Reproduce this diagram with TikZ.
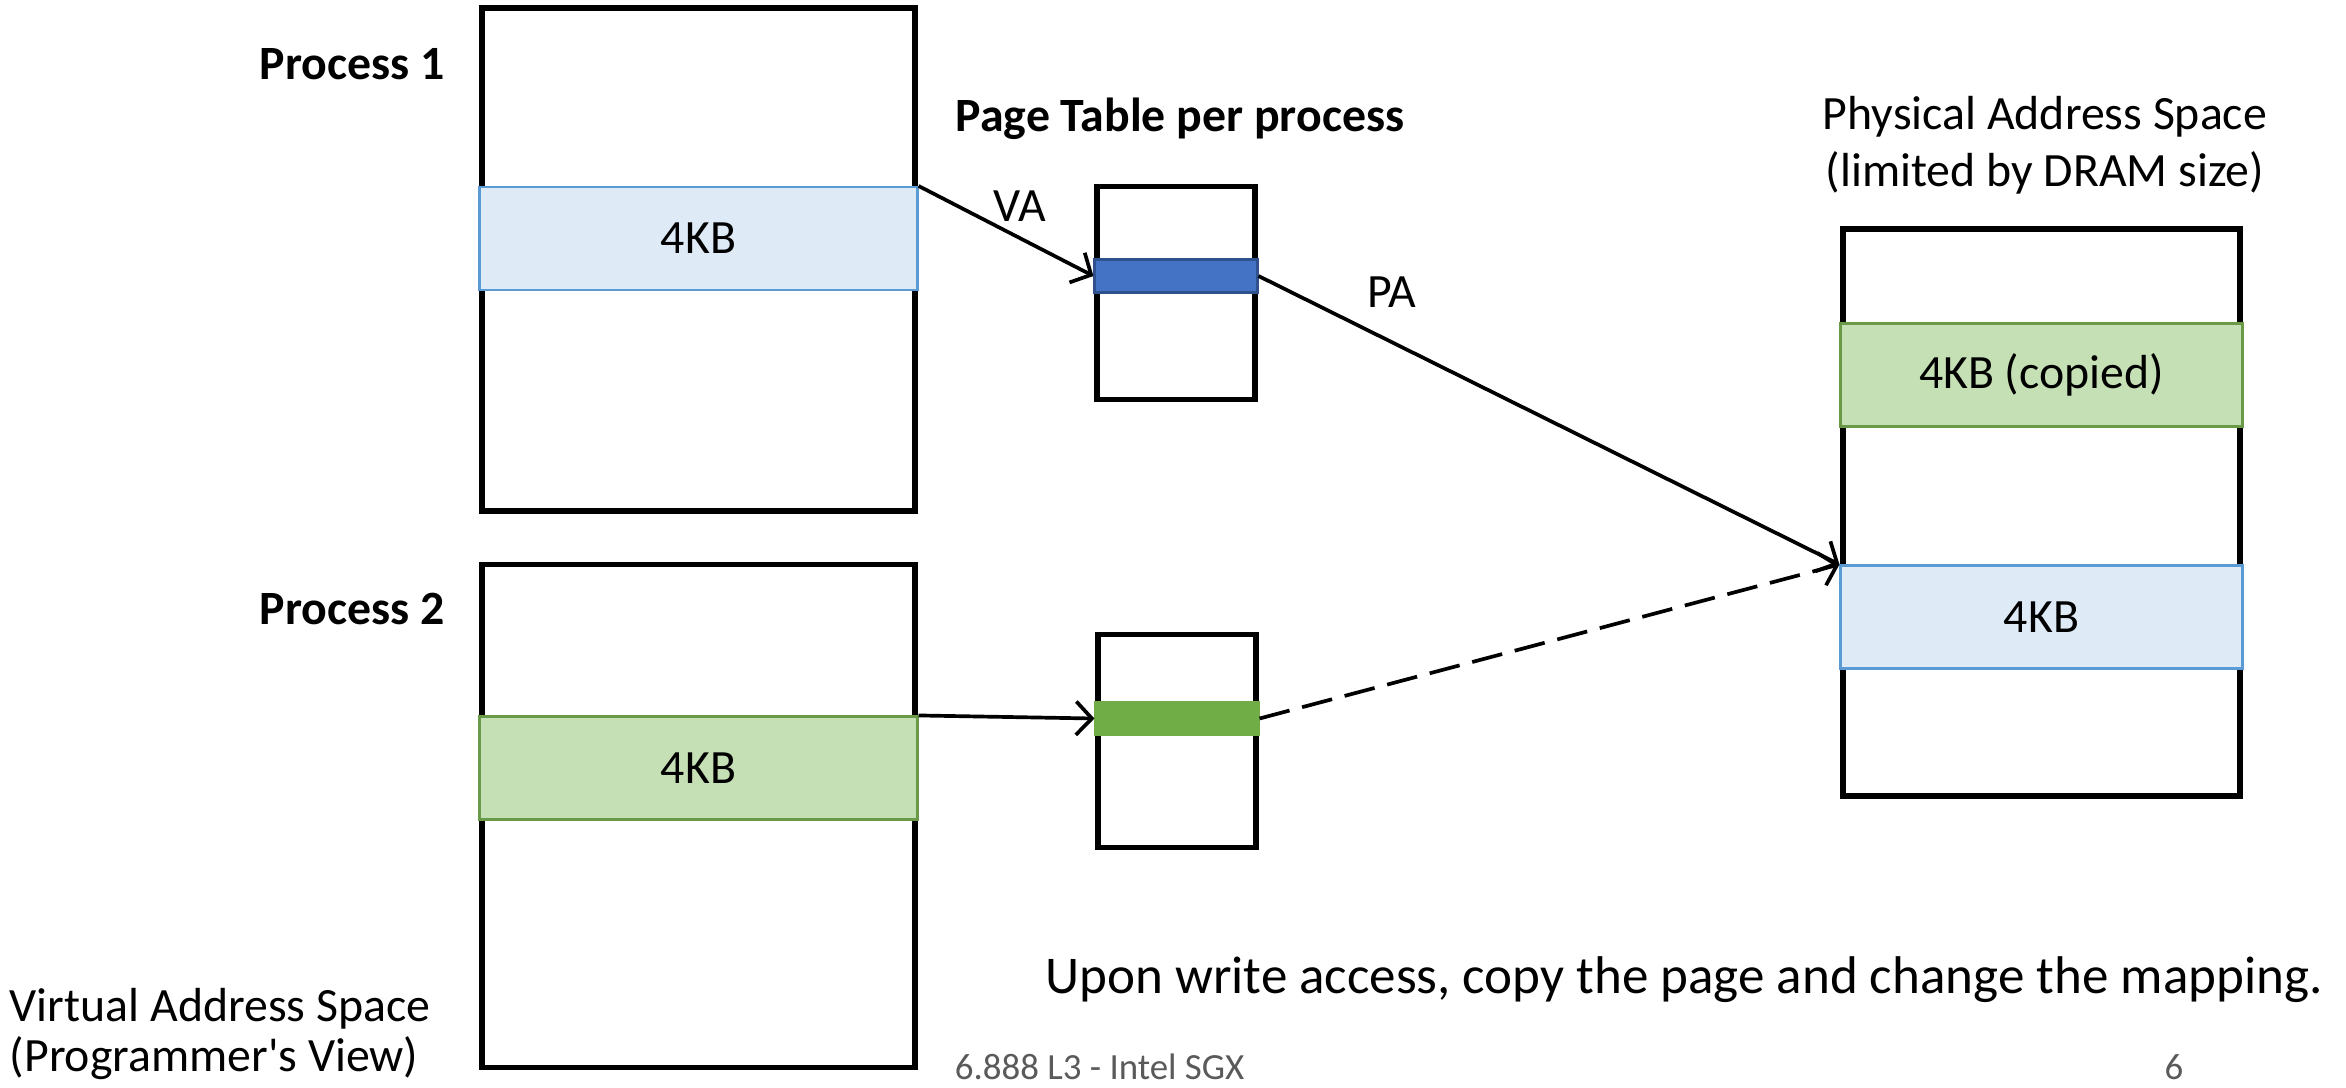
\documentclass[tikz,border=0pt]{standalone}
\usepackage{fontspec}
\setmainfont{Carlito}
\usepackage{tikz}
\usetikzlibrary{positioning, arrows.meta}
\usepackage{xcolor}
\definecolor{pgbluefill}{HTML}{DEEBF7}
\definecolor{pgblueline}{HTML}{5B9BD5}
\definecolor{pggreenfill}{HTML}{C5E0B4}
\definecolor{pggreenline}{HTML}{6A9A48}
\definecolor{ptblue}{HTML}{4472C4}
\definecolor{ptblueline}{HTML}{2F528F}
\definecolor{ptgreen}{HTML}{70AD47}
\definecolor{footgray}{HTML}{5A5A5A}

\begin{document}
\begin{tikzpicture}[>={Straight Barb[length=4.5pt,width=9.5pt]},line width=1.05pt,
  vspace/.style={draw,line width=1.5pt,minimum width=4.33cm,minimum height=5.03cm,inner sep=0pt},
  ptable/.style={draw,line width=1.5pt,minimum width=1.58cm,minimum height=2.13cm,inner sep=0pt},
  bluepage/.style={draw=pgblueline,fill=pgbluefill,line width=0.6pt,minimum height=1.03cm,inner sep=0pt,font=\fontsize{13.6}{16}\selectfont},
  greenpage/.style={draw=pggreenline,fill=pggreenfill,line width=0.6pt,minimum height=1.03cm,inner sep=0pt,font=\fontsize{13.6}{16}\selectfont},
  entry/.style={line width=0.6pt,minimum width=1.63cm,minimum height=0.33cm,inner sep=0pt},
  lbl/.style={inner sep=0pt,font=\fontsize{13.6}{16}\selectfont}]
  \useasboundingbox (0,0) rectangle (23.46,-10.88);

  % virtual address spaces
  \node[vspace] (p1) at (6.985,-2.595) {};
  \node[bluepage,minimum width=4.38cm] (p1pg) at (6.985,-2.385) {4KB};
  \node[vspace] (p2) at (6.985,-8.16) {};
  \node[greenpage,minimum width=4.38cm] (p2pg) at (6.985,-7.68) {4KB};
  \node[lbl,font=\fontsize{13.6}{16}\selectfont\bfseries] (p1lbl) [left=0.33cm of p1.north west,yshift=-0.59cm] {Process 1};
  \node[lbl,font=\fontsize{13.6}{16}\selectfont\bfseries] (p2lbl) [left=0.33cm of p2.north west,yshift=-0.47cm] {Process 2};
  \node[lbl,font=\fontsize{13.6}{14}\selectfont,align=left,anchor=west] (vas) at (0.08,-10.34) {Virtual Address Space\\(Programmer\textquotesingle s View)};

  % page tables
  \node[ptable] (pt1) at (11.76,-2.93) {};
  \node[entry,fill=ptblue,draw=ptblueline] (pt1e) at (11.76,-2.76) {};
  \node[ptable] (pt2) at (11.77,-7.41) {};
  \node[entry,fill=ptgreen,draw=ptgreen] (pt2e) at (11.77,-7.185) {};
  \node[lbl,font=\fontsize{13.6}{16}\selectfont\bfseries] (ptlbl) at (11.80,-1.19) {Page Table per process};

  % physical memory
  \node[draw,line width=1.5pt,minimum width=3.97cm,minimum height=5.67cm,inner sep=0pt] (phys) at (20.415,-5.125) {};
  \node[greenpage,minimum width=4.02cm] (physcp) at (20.415,-3.75) {4KB (copied)};
  \node[bluepage,minimum width=4.02cm] (physpg) at (20.415,-6.17) {4KB};
  \node[lbl,font=\fontsize{13.6}{16.2}\selectfont,align=center] (physlbl) at (20.45,-1.45) {Physical Address Space\\(limited by DRAM size)};

  % mappings
  \path[->]
    (p1pg.north east) edge node[lbl,pos=0.42,above right=0pt] {VA} (pt1e.west)
    (pt1e.east) edge node[lbl,pos=0.23,above=0.33cm] {PA} (physpg.north west)
    (p2pg.north east) edge (pt2e.west)
    (pt2e.east) edge[dash pattern=on 0.31cm off 0.13cm] (physpg.north west);

  \node[lbl,font=\fontsize{15.1}{18}\selectfont] (note) at (16.84,-9.80) {Upon write access, copy the page and change the mapping.};
  \node[lbl,font=\fontsize{10.5}{12}\selectfont,text=footgray,anchor=west] (foot) at (9.53,-10.67) {6.888 L3 - Intel SGX};
  \node[lbl,font=\fontsize{10.5}{12}\selectfont,text=footgray] (pgnum) at (21.74,-10.67) {6};
\end{tikzpicture}
\end{document}
